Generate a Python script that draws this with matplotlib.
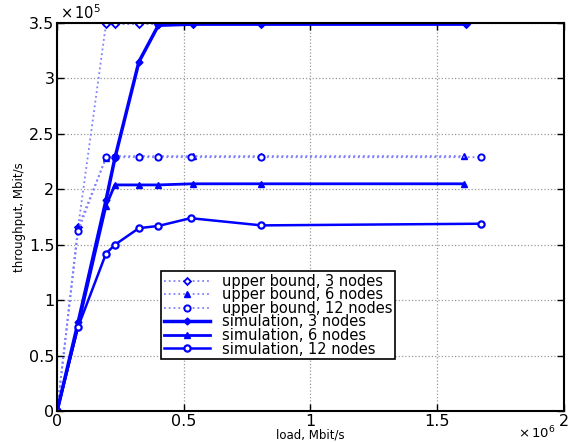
import matplotlib
matplotlib.use("Agg")
import matplotlib.pyplot as plt

plt.rcParams['font.family'] = ['DejaVu Sans']

# load (x 1e6 Mbit/s) and throughput (x 1e5 Mbit/s)
load_3 = [0, 0.083, 0.193, 0.228, 0.323, 0.40, 0.535, 0.807, 1.614]
load_6 = [0, 0.083, 0.193, 0.228, 0.323, 0.40, 0.535, 0.807, 1.606]
load_12 = [0, 0.083, 0.193, 0.228, 0.323, 0.40, 0.527, 0.807, 1.673]

ub_3 = [0, 1.66, 3.49, 3.49, 3.49, 3.49, 3.49, 3.49, 3.49]
ub_6 = [0, 1.66, 2.28, 2.30, 2.30, 2.30, 2.30, 2.30, 2.30]
ub_12 = [0, 1.62, 2.29, 2.29, 2.29, 2.29, 2.29, 2.29, 2.29]

sim_3 = [0, 0.80, 1.90, 2.28, 3.15, 3.48, 3.49, 3.49, 3.49]
sim_6 = [0, 0.77, 1.85, 2.04, 2.04, 2.04, 2.05, 2.05, 2.05]
sim_12 = [0, 0.76, 1.42, 1.50, 1.65, 1.67, 1.74, 1.675, 1.69]

labels = ['upper bound, 3 nodes', 'upper bound, 6 nodes', 'upper bound, 12 nodes',
          'simulation, 3 nodes', 'simulation, 6 nodes', 'simulation, 12 nodes']

fig = plt.figure(figsize=(5.71, 4.43), dpi=100)
ax = fig.add_axes([0.1, 0.072, 0.887, 0.876])

ub_col = '#8080ff'
blue = '#0000ff'
ax.plot(load_3, ub_3, ':', color=ub_col, lw=1.3, marker='D', ms=3.5,
        mfc='white', mec=blue, mew=1.3, label=labels[0])
ax.plot(load_6, ub_6, ':', color=ub_col, lw=1.3, marker='^', ms=4.5,
        mfc=blue, mec=blue, label=labels[1])
ax.plot(load_12, ub_12, ':', color=ub_col, lw=1.3, marker='o', ms=4.5,
        mfc='white', mec=blue, mew=1.4, label=labels[2])
ax.plot(load_3, sim_3, '-', color=blue, lw=2.5, marker='D', ms=3.5,
        mfc=blue, mec=blue, label=labels[3])
ax.plot(load_6, sim_6, '-', color=blue, lw=2.0, marker='^', ms=4.5,
        mfc=blue, mec=blue, label=labels[4])
ax.plot(load_12, sim_12, '-', color=blue, lw=1.8, marker='o', ms=4.5,
        mfc='white', mec=blue, mew=1.6, label=labels[5])

ax.set_xlim(0, 2)
ax.set_ylim(0, 3.5)
ax.set_xticks([0, 0.5, 1, 1.5, 2])
ax.set_xticklabels(['0', '0.5', '1', '1.5', '2'])
ax.set_yticks([0, 0.5, 1, 1.5, 2, 2.5, 3, 3.5])
ax.set_yticklabels(['0', '0.5', '1', '1.5', '2', '2.5', '3', '3.5'])
ax.tick_params(direction='in', labelsize=11.5, length=5, width=1, top=True, right=True, pad=2)
ax.grid(True, linestyle=':', color='#999999', lw=0.9)
for s in ax.spines.values():
    s.set_linewidth(1.5)

ax.set_xlabel('load, Mbit/s', fontsize=8.5, labelpad=0)
ax.set_ylabel('throughput, Mbit/s', fontsize=8.5, labelpad=2)
ax.text(0.005, 1.003, r'$\times\,10^5$', transform=ax.transAxes, fontsize=10.5,
        ha='left', va='bottom')
ax.text(0.985, -0.036, r'$\times\,10^6$', transform=ax.transAxes, fontsize=9.5,
        ha='right', va='top')

leg = ax.legend(loc='upper left', bbox_to_anchor=(0.19, 0.38), fontsize=10.5,
                fancybox=False, edgecolor='black', framealpha=1, handlelength=3.2,
                borderpad=0.2, labelspacing=-0.1, handletextpad=0.8)
leg.get_frame().set_linewidth(1.2)

fig.savefig('out.png', dpi=100)
